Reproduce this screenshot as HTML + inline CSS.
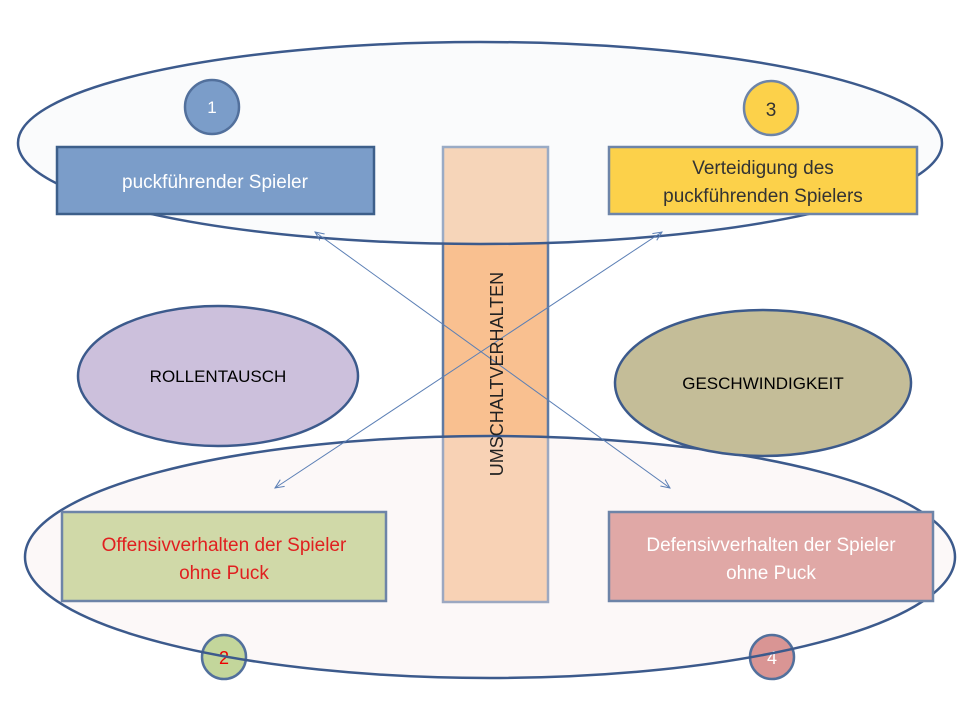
<!DOCTYPE html>
<html><head><meta charset="utf-8"><style>
html,body{margin:0;padding:0;background:#fff;}
svg text{font-family:"Liberation Sans",sans-serif;}
</style></head><body>
<svg width="960" height="720" viewBox="0 0 960 720" xmlns="http://www.w3.org/2000/svg">
<defs>
<marker id="a" viewBox="0 0 10 10" refX="9" refY="5" markerWidth="10" markerHeight="10" orient="auto-start-reverse" markerUnits="userSpaceOnUse">
<path d="M0,1 L9,5 L0,9" fill="none" stroke="#5b7fb5" stroke-width="1"/>
</marker>
</defs>
<rect x="0" y="0" width="960" height="720" fill="#fff"/>
<rect x="443" y="147" width="105" height="455" fill="#f9c090" stroke="#5f7aa3" stroke-width="2.5"/>
<ellipse cx="480" cy="143" rx="462" ry="101" fill="#f3f4f8" fill-opacity="0.4" stroke="none"/>
<ellipse cx="490" cy="557" rx="465" ry="121" fill="#f8eeee" fill-opacity="0.4" stroke="none"/>
<circle cx="212" cy="107" r="27" fill="#7b9dc9" stroke="#52709c" stroke-width="2.5"/>
<circle cx="771" cy="108" r="27" fill="#fcd14a" stroke="#6d84a8" stroke-width="2.5"/>
<circle cx="224" cy="657" r="22" fill="#c3d69b" stroke="#52709c" stroke-width="2.5"/>
<circle cx="772" cy="657" r="22" fill="#d99594" stroke="#52709c" stroke-width="2.5"/>
<text x="212" y="113" font-size="17" fill="#fff" text-anchor="middle">1</text>
<text x="771" y="116" font-size="19" fill="#333" text-anchor="middle">3</text>
<text x="224" y="664" font-size="18" fill="#e00" text-anchor="middle">2</text>
<text x="772" y="664" font-size="18" fill="#fff" text-anchor="middle">4</text>
<ellipse cx="480" cy="143" rx="462" ry="101" fill="none" stroke="#3c5a8c" stroke-width="2.5"/>
<ellipse cx="490" cy="557" rx="465" ry="121" fill="none" stroke="#3c5a8c" stroke-width="2.5"/>
<ellipse cx="218" cy="376" rx="140" ry="70" fill="#ccc0dc" stroke="#3c5a8c" stroke-width="2.5"/>
<ellipse cx="763" cy="383" rx="148" ry="73" fill="#c4bd98" stroke="#3c5a8c" stroke-width="2.5"/>
<rect x="57" y="147" width="317" height="67" fill="#7b9dc9" stroke="#3d5f8a" stroke-width="2.5"/>
<rect x="609" y="147" width="308" height="67" fill="#fcd14a" stroke="#6d84a8" stroke-width="2.5"/>
<rect x="62" y="512" width="324" height="89" fill="#d0d9a8" stroke="#6d84a8" stroke-width="2.5"/>
<rect x="609" y="512" width="324" height="89" fill="#e0a8a6" stroke="#6d84a8" stroke-width="2.5"/>
<line x1="670" y1="488" x2="315" y2="232" stroke="#5b7fb5" stroke-width="1" marker-start="url(#a)" marker-end="url(#a)"/>
<line x1="275" y1="488" x2="662" y2="232" stroke="#5b7fb5" stroke-width="1" marker-start="url(#a)" marker-end="url(#a)"/>
<text x="215" y="188" font-size="19" fill="#fff" text-anchor="middle">puckführender Spieler</text>
<text x="763" y="174" font-size="19" fill="#333" text-anchor="middle">Verteidigung des</text>
<text x="763" y="202" font-size="19" fill="#333" text-anchor="middle">puckführenden Spielers</text>
<text x="224" y="551" font-size="19" fill="#e02020" text-anchor="middle">Offensivverhalten der Spieler</text>
<text x="224" y="579" font-size="19" fill="#e02020" text-anchor="middle">ohne  Puck</text>
<text x="771" y="551" font-size="19" fill="#fff" text-anchor="middle">Defensivverhalten der  Spieler</text>
<text x="771" y="579" font-size="19" fill="#fff" text-anchor="middle">ohne Puck</text>
<text x="218" y="382" font-size="17" fill="#000" text-anchor="middle">ROLLENTAUSCH</text>
<text x="763" y="389" font-size="17" fill="#000" text-anchor="middle">GESCHWINDIGKEIT</text>
<text transform="translate(503,374) rotate(-90)" font-size="18" fill="#222" text-anchor="middle">UMSCHALTVERHALTEN</text>
</svg>
</body></html>
